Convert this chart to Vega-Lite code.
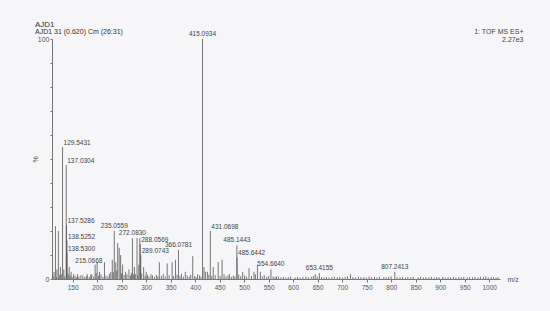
{
  "$schema": "https://vega.github.io/schema/vega-lite/v6.json",
  "autosize": "none",
  "width": 448,
  "height": 240,
  "padding": {"left": 52, "top": 39, "right": 50, "bottom": 32},
  "background": "#f6f5f8",
  "title": {
    "text": "AJD1",
    "subtitle": "AJD1 31 (0.620) Cm (26:31)",
    "anchor": "start",
    "frame": "group",
    "dx": -17,
    "dy": 12,
    "offset": 5,
    "font": "Liberation Sans",
    "fontSize": 8,
    "fontWeight": "normal",
    "color": "#333",
    "subtitleFont": "Liberation Sans",
    "subtitleFontSize": 7,
    "subtitleColor": "#333",
    "subtitlePadding": -1
  },
  "config": {
    "view": {"stroke": null},
    "axis": {"grid": false, "labelOverlap": false, "labelSeparation": 0, "labelFont": "Liberation Sans", "titleFont": "Liberation Sans", "labelColor": "#555", "titleColor": "#555", "domainColor": "#777", "tickColor": "#777", "labelFontSize": 7, "titleFontSize": 7, "titleFontWeight": "normal"}
  },
  "datasets": {
    "peaks": [
      {"mz": 112.1, "i": 3}, {"mz": 115.05, "i": 22}, {"mz": 118.0, "i": 4}, {"mz": 121.03, "i": 20}, {"mz": 125.1, "i": 5},
      {"mz": 129.5431, "i": 55}, {"mz": 132.1, "i": 4}, {"mz": 137.0304, "i": 47.5}, {"mz": 137.5286, "i": 22.5}, {"mz": 138.5252, "i": 16},
      {"mz": 138.53, "i": 11}, {"mz": 143.1, "i": 5}, {"mz": 147.0, "i": 3}, {"mz": 152.0, "i": 2}, {"mz": 160.1, "i": 2},
      {"mz": 171.0, "i": 1.5}, {"mz": 180.0, "i": 2}, {"mz": 189.1, "i": 2}, {"mz": 196.0, "i": 6}, {"mz": 200.1, "i": 7},
      {"mz": 205.0, "i": 3}, {"mz": 215.0668, "i": 7}, {"mz": 228.0, "i": 3}, {"mz": 231.0, "i": 8}, {"mz": 235.0559, "i": 20},
      {"mz": 238.0, "i": 7}, {"mz": 242.0, "i": 15}, {"mz": 245.1, "i": 13}, {"mz": 248.0, "i": 10}, {"mz": 252.0, "i": 6},
      {"mz": 258.1, "i": 3}, {"mz": 265.0, "i": 4}, {"mz": 272.083, "i": 17}, {"mz": 276.1, "i": 5}, {"mz": 281.5, "i": 17},
      {"mz": 285.0, "i": 6}, {"mz": 287.2, "i": 17}, {"mz": 288.0569, "i": 14.5}, {"mz": 289.0743, "i": 10}, {"mz": 295.0, "i": 5}, {"mz": 300.1, "i": 3},
      {"mz": 310.0, "i": 2}, {"mz": 327.0, "i": 7}, {"mz": 343.0, "i": 6.5}, {"mz": 353.1, "i": 7}, {"mz": 360.0, "i": 8},
      {"mz": 366.0781, "i": 12}, {"mz": 380.0, "i": 3}, {"mz": 395.1, "i": 9.5}, {"mz": 405.0, "i": 2}, {"mz": 415.0934, "i": 100},
      {"mz": 418.1, "i": 5}, {"mz": 421.0, "i": 3}, {"mz": 425.1, "i": 3}, {"mz": 431.0698, "i": 20}, {"mz": 437.0, "i": 5},
      {"mz": 447.1, "i": 7}, {"mz": 455.0, "i": 8}, {"mz": 470.0, "i": 2}, {"mz": 485.1443, "i": 14}, {"mz": 485.6442, "i": 9},
      {"mz": 497.0, "i": 3}, {"mz": 510.0, "i": 4.5}, {"mz": 520.0, "i": 3}, {"mz": 527.1, "i": 6}, {"mz": 533.0, "i": 3},
      {"mz": 554.664, "i": 4}, {"mz": 570.0, "i": 1}, {"mz": 645.0, "i": 2}, {"mz": 653.4155, "i": 2.5}, {"mz": 717.0, "i": 2},
      {"mz": 807.2413, "i": 3},
      {"mz": 110, "i": 1.2}, {"mz": 117, "i": 0.8}, {"mz": 123, "i": 1.5}, {"mz": 127, "i": 2}, {"mz": 134, "i": 1.1},
      {"mz": 141, "i": 2.2}, {"mz": 145, "i": 1.3}, {"mz": 149, "i": 0.9}, {"mz": 155, "i": 1.4}, {"mz": 158, "i": 0.7},
      {"mz": 163, "i": 1.0}, {"mz": 167, "i": 1.6}, {"mz": 175, "i": 0.8}, {"mz": 178, "i": 1.2}, {"mz": 184, "i": 0.9},
      {"mz": 187, "i": 1.8}, {"mz": 193, "i": 1.1}, {"mz": 198, "i": 2.5}, {"mz": 203, "i": 1.3}, {"mz": 208, "i": 1.9},
      {"mz": 212, "i": 0.8}, {"mz": 218, "i": 1.4}, {"mz": 222, "i": 1.0}, {"mz": 225, "i": 2.2}, {"mz": 233, "i": 2.8},
      {"mz": 240, "i": 3.5}, {"mz": 250, "i": 2.4}, {"mz": 255, "i": 1.6}, {"mz": 261, "i": 2.0}, {"mz": 268, "i": 1.4},
      {"mz": 270, "i": 2.6}, {"mz": 274, "i": 1.8}, {"mz": 278, "i": 2.1}, {"mz": 283, "i": 1.5}, {"mz": 291, "i": 2.3},
      {"mz": 298, "i": 1.2}, {"mz": 303, "i": 1.8}, {"mz": 306, "i": 1.0}, {"mz": 313, "i": 1.5}, {"mz": 317, "i": 0.9},
      {"mz": 321, "i": 1.7}, {"mz": 324, "i": 1.1}, {"mz": 331, "i": 1.3}, {"mz": 335, "i": 2.0}, {"mz": 339, "i": 1.0},
      {"mz": 347, "i": 1.6}, {"mz": 356, "i": 1.2}, {"mz": 363, "i": 1.8}, {"mz": 369, "i": 1.1}, {"mz": 372, "i": 2.2},
      {"mz": 376, "i": 1.0}, {"mz": 384, "i": 1.4}, {"mz": 388, "i": 0.9}, {"mz": 391, "i": 1.7}, {"mz": 399, "i": 1.2},
      {"mz": 402, "i": 0.8}, {"mz": 409, "i": 1.5}, {"mz": 412, "i": 1.0}, {"mz": 428, "i": 1.8}, {"mz": 434, "i": 1.2},
      {"mz": 441, "i": 1.6}, {"mz": 451, "i": 1.3}, {"mz": 459, "i": 2.0}, {"mz": 463, "i": 1.1}, {"mz": 467, "i": 1.5},
      {"mz": 474, "i": 0.9}, {"mz": 478, "i": 1.4}, {"mz": 481, "i": 1.0}, {"mz": 489, "i": 1.8}, {"mz": 493, "i": 1.2},
      {"mz": 501, "i": 1.5}, {"mz": 505, "i": 1.0}, {"mz": 515, "i": 1.3}, {"mz": 523, "i": 2.0}, {"mz": 537, "i": 1.1},
      {"mz": 541, "i": 1.6}, {"mz": 546, "i": 0.9}, {"mz": 550, "i": 1.2}, {"mz": 559, "i": 1.0}, {"mz": 563, "i": 0.8},
      {"mz": 566, "i": 1.1}, {"mz": 575, "i": 0.7}, {"mz": 580, "i": 0.9}, {"mz": 585, "i": 0.6}, {"mz": 590, "i": 0.8},
      {"mz": 595, "i": 1.0}, {"mz": 604, "i": 0.7}, {"mz": 609, "i": 0.9}, {"mz": 614, "i": 0.6}, {"mz": 620, "i": 0.8},
      {"mz": 626, "i": 1.0}, {"mz": 631, "i": 0.7}, {"mz": 637, "i": 0.9}, {"mz": 641, "i": 1.2}, {"mz": 649, "i": 1.0},
      {"mz": 658, "i": 0.8}, {"mz": 663, "i": 0.7}, {"mz": 668, "i": 0.9}, {"mz": 673, "i": 0.6}, {"mz": 679, "i": 0.8},
      {"mz": 684, "i": 1.0}, {"mz": 690, "i": 0.7}, {"mz": 695, "i": 0.9}, {"mz": 701, "i": 0.6}, {"mz": 706, "i": 0.8},
      {"mz": 711, "i": 1.1}, {"mz": 722, "i": 0.8}, {"mz": 727, "i": 0.6}, {"mz": 733, "i": 0.9}, {"mz": 738, "i": 0.7},
      {"mz": 744, "i": 0.8}, {"mz": 749, "i": 0.6}, {"mz": 755, "i": 1.0}, {"mz": 760, "i": 0.7}, {"mz": 766, "i": 0.9},
      {"mz": 771, "i": 0.6}, {"mz": 776, "i": 1.0}, {"mz": 785, "i": 0.8}, {"mz": 790, "i": 0.7}, {"mz": 795, "i": 0.9},
      {"mz": 800, "i": 1.1}, {"mz": 812, "i": 0.8}, {"mz": 818, "i": 0.7}, {"mz": 823, "i": 0.9}, {"mz": 829, "i": 0.6},
      {"mz": 834, "i": 0.8}, {"mz": 840, "i": 0.7}, {"mz": 845, "i": 0.9}, {"mz": 855, "i": 0.7}, {"mz": 860, "i": 0.9},
      {"mz": 866, "i": 0.6}, {"mz": 871, "i": 0.8}, {"mz": 877, "i": 0.7}, {"mz": 882, "i": 0.9}, {"mz": 888, "i": 0.6},
      {"mz": 893, "i": 0.8}, {"mz": 898, "i": 0.7}, {"mz": 905, "i": 0.9}, {"mz": 910, "i": 0.6}, {"mz": 916, "i": 0.8},
      {"mz": 921, "i": 0.7}, {"mz": 927, "i": 0.9}, {"mz": 932, "i": 0.6}, {"mz": 938, "i": 0.8}, {"mz": 943, "i": 0.7},
      {"mz": 948, "i": 0.9}, {"mz": 955, "i": 0.6}, {"mz": 960, "i": 0.8}, {"mz": 966, "i": 0.7}, {"mz": 971, "i": 0.9},
      {"mz": 977, "i": 0.6}, {"mz": 982, "i": 1.0}, {"mz": 988, "i": 0.8}, {"mz": 993, "i": 1.1}, {"mz": 998, "i": 0.7},
      {"mz": 1004, "i": 0.9}, {"mz": 1009, "i": 0.8}, {"mz": 1014, "i": 0.6}, {"mz": 1018, "i": 0.7}
    ]
  },
  "layer": [
    {
      "data": {"name": "peaks"},
      "encoding": {
        "x": {"field": "mz", "type": "quantitative", "scale": {"domain": [108, 1022], "nice": false, "zero": false},
          "axis": {"values": [150, 200, 250, 300, 350, 400, 450, 500, 550, 600, 650, 700, 750, 800, 850, 900, 950, 1000], "format": "d",
            "labelOverlap": false, "labelSeparation": 0, "labelFontSize": 6.5, "tickSize": 3, "labelPadding": 2, "title": "m/z", "titleX": 455, "titleY": 0, "titleAlign": "left", "titleBaseline": "middle", "titleAnchor": null}},
        "y": {"field": "i", "type": "quantitative", "scale": {"domain": [0, 100], "nice": false},
          "axis": {"values": [0, 10, 20, 30, 40, 50, 60, 70, 80, 90, 100], "labelExpr": "datum.value == 0 || datum.value == 100 ? datum.label : ''",
            "labelOverlap": false, "tickSize": 2, "labelPadding": 1, "title": "%", "titleAngle": 270, "titleX": -17, "titleY": 120, "titleAlign": "center", "titleBaseline": "middle"}}
      },
      "layer": [
        {
          "mark": {"type": "rule", "color": "#555", "strokeWidth": 0.8},
          "encoding": {"y2": {"datum": 0}}
        },
        {
          "transform": [{"filter": {"field": "mz", "oneOf": [235.0559, 272.083, 366.0781, 415.0934, 485.1443, 554.664, 653.4155, 807.2413]}}],
          "mark": {"type": "text", "font": "Liberation Sans", "fontSize": 6.5, "color": "#444", "align": "center", "baseline": "alphabetic", "dy": -3},
          "encoding": {"text": {"field": "mz", "type": "quantitative", "format": ".4f"}}
        },
        {
          "transform": [{"filter": {"field": "mz", "oneOf": [129.5431, 137.0304, 137.5286, 138.5252, 138.53, 288.0569, 289.0743, 431.0698, 485.6442]}}],
          "mark": {"type": "text", "font": "Liberation Sans", "fontSize": 6.5, "color": "#444", "align": "left", "baseline": "alphabetic", "dx": 1, "dy": -2},
          "encoding": {"text": {"field": "mz", "type": "quantitative", "format": ".4f"}}
        },
        {
          "transform": [{"filter": {"field": "mz", "oneOf": [215.0668]}}],
          "mark": {"type": "text", "font": "Liberation Sans", "fontSize": 6.5, "color": "#444", "align": "right", "baseline": "alphabetic", "dx": -2, "dy": 1},
          "encoding": {"text": {"field": "mz", "type": "quantitative", "format": ".4f"}}
        }
      ]
    },
    {
      "data": {"values": [{}]},
      "mark": {"type": "text", "font": "Liberation Sans", "fontSize": 7, "color": "#444", "align": "right", "baseline": "alphabetic", "lineHeight": 8, "text": ["1: TOF MS ES+", "2.27e3"]},
      "encoding": {
        "x": {"datum": 1070, "type": "quantitative", "scale": {"domain": [108, 1022], "nice": false, "zero": false},
          "axis": {"values": [150, 200, 250, 300, 350, 400, 450, 500, 550, 600, 650, 700, 750, 800, 850, 900, 950, 1000], "format": "d",
            "labelOverlap": false, "labelSeparation": 0, "labelFontSize": 6.5, "tickSize": 3, "labelPadding": 2, "title": "m/z", "titleX": 455, "titleY": 0, "titleAlign": "left", "titleBaseline": "middle", "titleAnchor": null}},
        "y": {"datum": 102, "type": "quantitative", "scale": {"domain": [0, 100], "nice": false},
          "axis": {"values": [0, 10, 20, 30, 40, 50, 60, 70, 80, 90, 100], "labelExpr": "datum.value == 0 || datum.value == 100 ? datum.label : ''",
            "labelOverlap": false, "tickSize": 2, "labelPadding": 1, "title": "%", "titleAngle": 270, "titleX": -17, "titleY": 120, "titleAlign": "center", "titleBaseline": "middle"}}
      }
    }
  ]
}
